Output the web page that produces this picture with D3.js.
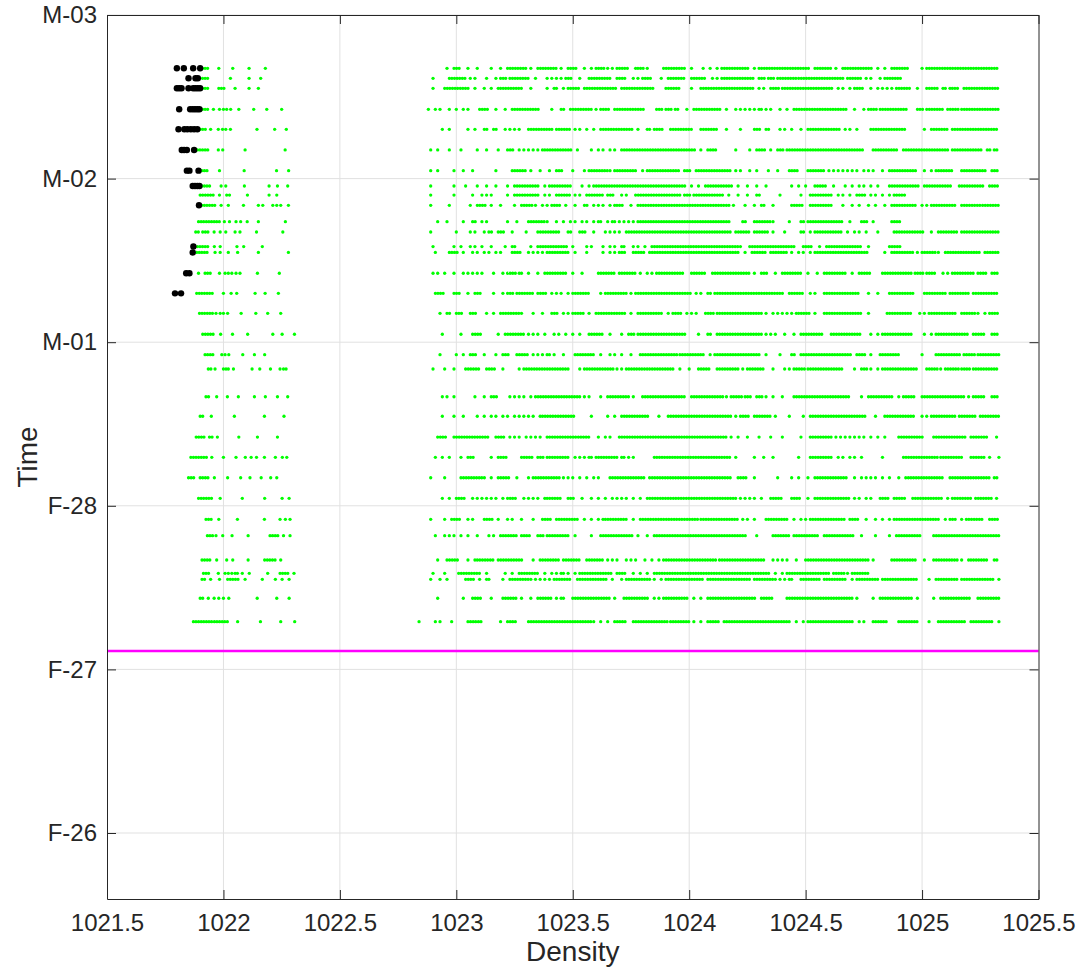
<!DOCTYPE html>
<html><head><meta charset="utf-8">
<script src="https://cdn.jsdelivr.net/npm/d3@7"></script>
<style>body{margin:0;background:#fff}svg{display:block}</style>
</head><body>
<svg id="chart" width="1083" height="973"></svg>
<script>
// ---------- data ----------
const xTickValues = [1021.5, 1022, 1022.5, 1023, 1023.5, 1024, 1024.5, 1025, 1025.5];
const xTickLabels = ["1021.5", "1022", "1022.5", "1023", "1023.5", "1024", "1024.5", "1025", "1025.5"];
const yTickDates  = ["2021-02-26T00:00", "2021-02-27T00:00", "2021-02-28T00:00", "2021-03-01T00:00", "2021-03-02T00:00", "2021-03-03T00:00"];
const yTickLabels = ["F-26", "F-27", "F-28", "M-01", "M-02", "M-03"];
const xDomain = [1021.5, 1025.5];
const yDomain = ["2021-02-25T14:19", "2021-03-03T00:00"];
const cutoffTime = "2021-02-27T02:42";

// one entry per profile (time of profile)
const profileTimes = [
  "2021-03-02T16:11","2021-03-02T14:43","2021-03-02T13:15","2021-03-02T10:10","2021-03-02T07:14",
  "2021-03-02T04:12","2021-03-02T01:10","2021-03-01T22:55","2021-03-01T21:35","2021-03-01T20:05",
  "2021-03-01T17:41","2021-03-01T16:10","2021-03-01T14:02","2021-03-01T13:10","2021-03-01T10:07",
  "2021-03-01T07:10","2021-03-01T04:14","2021-03-01T01:10","2021-02-28T22:10","2021-02-28T20:04",
  "2021-02-28T16:00","2021-02-28T13:08","2021-02-28T10:05","2021-02-28T07:07","2021-02-28T04:07",
  "2021-02-28T01:06","2021-02-27T22:01","2021-02-27T19:37","2021-02-27T16:03","2021-02-27T14:06",
  "2021-02-27T13:13","2021-02-27T10:26","2021-02-27T07:00"
];

// good-data densities per profile: "a" = one sample, "a-b" = densely sampled run from a to b
const goodDensity = [
 "1021.91-1021.935 1021.98 1022.04 1022.11 1022.18 1022.96 1022.99-1023.02 1023.05 1023.09 1023.15 1023.19 1023.22-1023.30 1023.32 1023.35-1023.43 1023.45 1023.48-1023.52 1023.55 1023.58 1023.60-1023.64 1023.65 1023.67 1023.69-1023.74 1023.77 1023.78-1023.81 1023.82 1023.89-1023.98 1024.01 1024.06 1024.09 1024.12 1024.14-1024.26 1024.28 1024.30-1024.52 1024.54-1024.61 1024.63 1024.66 1024.67-1024.79 1024.81 1024.84 1024.87-1024.94 1025.00 1025.02-1025.33",
 "1021.91-1021.94 1022.03 1022.11 1022.16 1022.90 1022.97-1023.04 1023.06 1023.08 1023.13 1023.17 1023.19-1023.22 1023.23-1023.31 1023.34 1023.39 1023.41 1023.43 1023.45 1023.47-1023.50 1023.53 1023.57-1023.67 1023.69-1023.73 1023.76 1023.78 1023.80-1023.84 1023.88 1023.91-1023.98 1024.01-1024.07 1024.10 1024.12 1024.14-1024.28 1024.30-1024.33 1024.34-1024.37 1024.38-1024.46 1024.47-1024.67 1024.68-1024.74 1024.76 1024.78 1024.82 1024.84-1024.91",
 "1021.91-1021.935 1021.98-1022.01 1022.05 1022.11 1022.15 1022.90 1022.95-1023.06 1023.08 1023.12 1023.15 1023.18 1023.19-1023.29 1023.32 1023.39 1023.42 1023.43 1023.46 1023.48-1023.53 1023.55-1023.69 1023.71-1023.85 1023.90-1023.96 1024.01 1024.05-1024.28 1024.30 1024.32 1024.35-1024.39 1024.40-1024.62 1024.64 1024.66 1024.69 1024.71-1024.75 1024.78 1024.81 1024.83 1024.85 1024.87 1024.89-1024.95 1024.98 1025.02-1025.07 1025.09 1025.10 1025.12 1025.13-1025.16 1025.18-1025.27 1025.28-1025.33",
 "1021.91-1021.935 1021.957 1021.983 1022.0 1022.014 1022.031 1022.066 1022.13 1022.186 1022.25 1022.88 1022.91 1022.93 1022.97 1023.00 1023.03 1023.05 1023.10-1023.14 1023.17 1023.21 1023.24-1023.36 1023.41 1023.45-1023.47 1023.49-1023.58 1023.60 1023.62-1023.66 1023.68-1023.81 1023.86-1023.89 1023.90-1023.93 1023.94-1023.96 1023.99 1024.02-1024.14 1024.16 1024.20 1024.22 1024.24 1024.26 1024.28 1024.30 1024.31 1024.33 1024.35 1024.39 1024.42 1024.45-1024.68 1024.71 1024.75 1024.77-1024.81 1024.82-1024.94 1024.98-1025.01 1025.02-1025.09 1025.11-1025.16 1025.17-1025.33",
 "1021.90-1021.93 1021.945 1021.978 1021.996 1022.01 1022.03 1022.144 1022.22 1022.27 1022.94 1022.97 1023.05 1023.08 1023.12-1023.14 1023.16-1023.18 1023.21 1023.23 1023.25 1023.27 1023.31-1023.42 1023.43-1023.49 1023.51 1023.53 1023.56 1023.59 1023.62-1023.76 1023.78 1023.82 1023.83 1023.85-1023.89 1023.92-1024.01 1024.05-1024.12 1024.16 1024.22 1024.28-1024.31 1024.33-1024.35 1024.39 1024.41 1024.44 1024.48 1024.51-1024.65 1024.67 1024.69 1024.72 1024.78-1024.93 1025.01 1025.04-1025.11 1025.13-1025.33",
 "1021.888-1021.943 1021.978 1021.997 1022.093 1022.265 1022.89 1022.92 1022.97 1023.02 1023.09 1023.13 1023.18 1023.22-1023.25 1023.27 1023.29 1023.31 1023.33 1023.35 1023.37 1023.38-1023.50 1023.52 1023.58 1023.61 1023.63 1023.66 1023.68 1023.71-1024.03 1024.05 1024.08-1024.12 1024.20 1024.26 1024.29-1024.33 1024.35 1024.38-1024.41 1024.42-1024.75 1024.79-1024.90 1024.92-1025.11 1025.13-1025.26 1025.28-1025.30 1025.31-1025.33",
 "1021.907-1021.93 1021.983 1022.089 1022.228 1022.28 1022.89 1022.92 1022.99 1023.03 1023.07 1023.17 1023.24-1023.30 1023.32 1023.36 1023.40 1023.43-1023.46 1023.50 1023.55 1023.57-1023.65 1023.66 1023.68-1023.78 1023.80 1023.82-1023.96 1023.98-1024.01 1024.03-1024.18 1024.20 1024.22 1024.26 1024.29 1024.34 1024.38 1024.43-1024.47 1024.51-1024.58 1024.60 1024.62 1024.64 1024.66 1024.68 1024.70 1024.72 1024.75 1024.77 1024.79 1024.83 1024.86-1024.98 1025.01 1025.04 1025.06-1025.13 1025.17-1025.28 1025.30-1025.33",
 "1021.907-1021.946 1021.99 1022.01 1022.09 1022.196 1022.232 1022.276 1022.89 1022.99 1023.04 1023.09 1023.13 1023.17 1023.22 1023.25-1023.36 1023.38 1023.40-1023.49 1023.54 1023.57 1023.59-1023.99 1024.01 1024.04 1024.07-1024.19 1024.21 1024.25 1024.29 1024.33 1024.44 1024.47 1024.50 1024.54-1024.59 1024.62 1024.67 1024.70 1024.73 1024.75 1024.78 1024.81 1024.86-1024.99 1025.01-1025.13 1025.16-1025.27 1025.29-1025.33",
 "1021.90-1021.957 1021.983 1022.014 1022.026 1022.103 1022.196 1022.229 1022.89 1022.99 1023.07 1023.11 1023.13 1023.15 1023.22 1023.25-1023.36 1023.38 1023.40 1023.43-1023.49 1023.51 1023.53 1023.56-1023.63 1023.65-1023.68 1023.71 1023.73 1023.77-1023.96 1023.98-1024.01 1024.02-1024.15 1024.17 1024.21 1024.25 1024.29-1024.31 1024.39 1024.48 1024.52-1024.61 1024.64 1024.66 1024.69 1024.72-1024.76 1024.78 1024.80 1024.83 1024.86 1024.88-1024.93",
 "1021.907-1021.971 1021.99 1022.021 1022.086 1022.15 1022.169 1022.212 1022.229 1022.246 1022.279 1022.89 1022.97 1023.06 1023.09-1023.13 1023.15 1023.19 1023.25 1023.28-1023.33 1023.34 1023.37 1023.39 1023.41-1023.45 1023.47 1023.51 1023.55-1023.57 1023.59 1023.61 1023.63 1023.66 1023.68 1023.69-1023.72 1023.75 1023.78-1024.18 1024.19 1024.24 1024.28 1024.31-1024.33 1024.36 1024.44-1024.49 1024.52-1024.62 1024.66 1024.70 1024.73 1024.77 1024.80-1024.81 1024.84 1024.87-1024.98 1025.00 1025.02 1025.04-1025.15 1025.17-1025.25 1025.26-1025.33",
 "1021.893-1021.983 1022.004 1022.026 1022.054 1022.074 1022.102 1022.15 1022.266 1022.92 1022.96 1023.03 1023.07-1023.09 1023.11 1023.13 1023.22 1023.26 1023.31-1023.38 1023.39 1023.43 1023.46 1023.49 1023.51 1023.54 1023.56 1023.59 1023.61 1023.62 1023.65 1023.67 1023.68 1023.70 1023.72 1023.74 1023.76 1023.78-1024.18 1024.23-1024.25 1024.28-1024.35 1024.36 1024.43 1024.48-1024.50 1024.51-1024.66 1024.69 1024.74-1024.77 1024.79 1024.87-1024.91",
 "1021.881-1021.90 1021.911-1021.935 1021.96 1021.986 1022.01 1022.05 1022.071 1022.142 1022.255 1022.89 1023.00 1023.06 1023.08 1023.12 1023.14-1023.16 1023.18-1023.21 1023.24 1023.30 1023.35-1023.45 1023.48-1023.50 1023.53-1023.56 1023.59 1023.64 1023.66 1023.68 1023.70 1023.73-1024.11 1024.12-1024.18 1024.20-1024.26 1024.28-1024.34 1024.36 1024.41 1024.48-1024.50 1024.52 1024.54-1024.66 1024.68 1024.71 1024.73 1024.76 1024.81 1024.88-1025.01 1025.04 1025.07-1025.15 1025.17-1025.33",
 "1021.888-1021.94 1021.961 1021.986 1022.058 1022.087 1022.167 1022.90 1022.99 1023.02 1023.06 1023.08 1023.11 1023.15 1023.21 1023.24-1023.26 1023.32 1023.35-1023.48 1023.50 1023.56 1023.58 1023.63 1023.66 1023.68 1023.71 1023.72 1023.76 1023.78 1023.81 1023.84-1024.21 1024.22 1024.26-1024.46 1024.49-1024.53 1024.56 1024.59-1024.74 1024.77 1024.86-1024.91",
 "1021.885-1021.94 1021.964 1021.986 1022.021 1022.061 1022.15 1022.279 1022.91 1022.97-1023.01 1023.03 1023.07 1023.09 1023.12 1023.14 1023.17 1023.19 1023.24-1023.28 1023.31 1023.33 1023.35 1023.37 1023.39-1023.48 1023.51 1023.56 1023.63 1023.66 1023.68 1023.70-1023.73 1023.76-1023.81 1023.83-1024.21 1024.24 1024.27-1024.33 1024.35-1024.42 1024.44 1024.47 1024.49 1024.52 1024.54-1024.77 1024.84 1024.87-1024.96 1024.98 1025.00-1025.06 1025.07 1025.10-1025.25 1025.27-1025.33",
 "1021.893 1021.921-1021.95 1021.983 1022.007 1022.021 1022.036 1022.054 1022.071 1022.146 1022.24 1022.90 1022.92 1022.95 1022.99 1023.03 1023.05 1023.07 1023.09 1023.11 1023.16 1023.20 1023.22-1023.26 1023.27 1023.28 1023.31 1023.35 1023.38-1023.48 1023.50 1023.54 1023.61-1023.68 1023.70-1023.77 1023.79 1023.82 1023.84 1023.86-1023.98 1024.01-1024.07 1024.10-1024.26 1024.28 1024.31-1024.34 1024.37 1024.40-1024.48 1024.51 1024.55 1024.58-1024.68 1024.70 1024.73-1024.78 1024.83-1024.96 1024.97-1025.01 1025.02-1025.06 1025.09 1025.11 1025.13-1025.23 1025.24-1025.28 1025.30-1025.33",
 "1021.885-1021.957 1022.0 1022.033 1022.057 1022.136 1022.179 1022.236 1022.91-1022.95 1022.99-1023.02 1023.05 1023.08-1023.11 1023.16 1023.20 1023.22-1023.25 1023.26-1023.33 1023.35-1023.39 1023.41 1023.43 1023.45 1023.48 1023.50-1023.57 1023.62 1023.64-1023.73 1023.75 1023.77-1024.01 1024.03 1024.05 1024.08-1024.10 1024.11-1024.41 1024.43-1024.49 1024.52 1024.54 1024.58-1024.73 1024.77 1024.81 1024.86-1024.97 1025.01-1025.11 1025.12-1025.20 1025.22-1025.33",
 "1021.897-1021.957 1021.968 1021.986 1022.0 1022.018 1022.076 1022.139 1022.19 1022.246 1022.93 1022.96-1022.98 1023.00-1023.03 1023.06-1023.09 1023.13 1023.16 1023.19-1023.27 1023.28 1023.33 1023.37 1023.41-1023.44 1023.46 1023.48 1023.50-1023.55 1023.57 1023.60-1023.73 1023.75 1023.78-1023.89 1023.91 1023.93-1023.97 1023.99 1024.01 1024.03 1024.07-1024.11 1024.12-1024.31 1024.33 1024.36 1024.38 1024.40 1024.42 1024.44 1024.46 1024.47-1024.52 1024.54 1024.58-1024.74 1024.77 1024.85-1024.96 1024.99 1025.01 1025.03-1025.15 1025.17-1025.23 1025.24 1025.27 1025.29-1025.33",
 "1021.911-1021.964 1021.988 1022.039 1022.104 1022.212 1022.252 1022.305 1022.94 1023.02 1023.07-1023.11 1023.18 1023.21-1023.29 1023.31 1023.33 1023.35 1023.38 1023.42 1023.44 1023.47 1023.50 1023.53 1023.57-1023.63 1023.66 1023.71 1023.74-1023.77 1023.78-1023.99 1024.04 1024.08-1024.10 1024.12-1024.31 1024.33 1024.35 1024.37 1024.41 1024.45 1024.48-1024.58 1024.61-1024.74 1024.78 1024.81 1024.83-1024.96 1025.01 1025.04 1025.06-1025.20 1025.22-1025.27 1025.30-1025.33",
 "1021.921-1021.964 1021.993 1022.007 1022.023 1022.083 1022.133 1022.177 1022.93 1023.00 1023.03 1023.06-1023.09 1023.12 1023.17 1023.20-1023.23 1023.26-1023.31 1023.33 1023.35 1023.37 1023.39 1023.40 1023.42 1023.46 1023.51-1023.59 1023.62 1023.66 1023.68 1023.71 1023.75 1023.79-1023.95 1023.96-1024.05 1024.06 1024.09 1024.11-1024.31 1024.33 1024.39 1024.44-1024.46 1024.48-1024.70 1024.72-1024.76 1024.78 1024.82-1024.90 1025.00 1025.06-1025.17 1025.18-1025.23 1025.24-1025.33",
 "1021.935-1021.95 1021.964 1022.0 1022.011 1022.021 1022.043 1022.123 1022.156 1022.202 1022.243 1022.258 1022.269 1022.90 1022.95 1022.99 1023.04-1023.10 1023.13-1023.17 1023.20 1023.27 1023.29-1023.48 1023.53 1023.55-1023.68 1023.69 1023.71 1023.73-1023.82 1023.83-1023.92 1023.93 1023.96 1024.00 1024.04-1024.09 1024.12-1024.21 1024.23 1024.25-1024.32 1024.36 1024.41 1024.43 1024.45-1024.50 1024.51-1024.66 1024.71 1024.74-1024.77 1024.78 1024.81 1024.83-1024.98 1025.02-1025.07 1025.08 1025.10-1025.16 1025.17-1025.21 1025.22-1025.33",
 "1021.925-1021.945 1021.971 1022.017 1022.064 1022.133 1022.18 1022.232 1022.276 1022.94 1022.96 1022.99 1023.08 1023.12 1023.15-1023.18 1023.23 1023.25 1023.27 1023.29 1023.32 1023.34-1023.53 1023.55 1023.57 1023.62 1023.65-1023.74 1023.76 1023.80-1023.98 1024.01-1024.15 1024.16 1024.18-1024.23 1024.24-1024.27 1024.29-1024.32 1024.33 1024.36 1024.40 1024.45-1024.69 1024.74 1024.77-1024.86 1024.87 1024.90 1024.92-1024.97 1025.00-1025.18 1025.20 1025.22-1025.27 1025.30-1025.33",
 "1021.90-1021.917 1021.948 1022.047 1022.176 1022.26 1022.94 1022.99 1023.03 1023.09 1023.12 1023.15 1023.17 1023.20 1023.22 1023.25 1023.27 1023.29 1023.31 1023.33 1023.36 1023.37-1023.51 1023.58 1023.65 1023.68 1023.71-1023.83 1023.87 1023.91-1024.18 1024.20 1024.22-1024.26 1024.28-1024.35 1024.37 1024.43 1024.49 1024.52-1024.76 1024.80 1024.84-1024.97 1025.00 1025.02 1025.04-1025.15 1025.16-1025.23 1025.25-1025.33",
 "1021.883-1021.917 1021.94-1021.954 1021.974 1022.066 1022.146 1022.232 1022.92-1022.96 1022.99-1023.14 1023.17-1023.21 1023.23 1023.25 1023.27 1023.30 1023.32 1023.34 1023.36 1023.39-1023.57 1023.61 1023.64 1023.66 1023.70-1024.16 1024.18 1024.21 1024.25 1024.30 1024.35 1024.40 1024.48 1024.52-1024.61 1024.63 1024.65 1024.67 1024.69 1024.71 1024.73 1024.75 1024.78 1024.81 1024.84 1024.90-1025.01 1025.05-1025.19 1025.21-1025.28 1025.32",
 "1021.86-1021.935 1021.95 1022.0 1022.054 1022.094 1022.119 1022.142 1022.176 1022.223 1022.253 1022.272 1022.91 1022.94 1022.97 1023.02 1023.05-1023.08 1023.15 1023.18-1023.22 1023.28-1023.33 1023.35-1023.38 1023.39-1023.49 1023.51 1023.53 1023.55 1023.57 1023.58 1023.60-1023.69 1023.71 1023.72 1023.74 1023.76 1023.85-1024.18 1024.20 1024.28 1024.32 1024.36 1024.47 1024.52-1024.62 1024.64 1024.66 1024.69 1024.71 1024.74 1024.83 1024.92-1025.07 1025.08-1025.18 1025.21-1025.27 1025.29 1025.33",
 "1021.85-1021.874 1021.90-1021.943 1021.961 1022.018 1022.074 1022.114 1022.162 1022.203 1022.229 1022.89 1022.95 1023.02-1023.13 1023.15 1023.18-1023.23 1023.26 1023.31 1023.33-1023.45 1023.46 1023.48 1023.50 1023.53 1023.56 1023.59 1023.61 1023.66-1023.81 1023.83-1024.18 1024.21-1024.25 1024.28 1024.38 1024.44 1024.47 1024.51 1024.54-1024.68 1024.71 1024.74 1024.76 1024.78 1024.80 1024.83 1024.86 1024.90 1024.93-1025.09 1025.12-1025.29 1025.31-1025.33",
 "1021.893-1021.954 1021.986 1022.081 1022.177 1022.252 1022.282 1022.94 1022.97 1023.00-1023.04 1023.07 1023.09 1023.11 1023.13 1023.15 1023.17 1023.20 1023.22-1023.26 1023.29 1023.31 1023.33 1023.35 1023.38 1023.39-1023.45 1023.48-1023.51 1023.54 1023.58 1023.61 1023.64 1023.67 1023.69 1023.71 1023.73 1023.76 1023.79 1023.82-1024.20 1024.22 1024.24 1024.26 1024.28 1024.31 1024.35-1024.40 1024.44-1024.48 1024.51 1024.54-1024.69 1024.71 1024.73 1024.76 1024.78 1024.82-1024.86 1024.88-1024.93 1024.96-1025.09 1025.11 1025.13-1025.21 1025.23-1025.30 1025.32-1025.33",
 "1021.925-1021.957 1021.98 1022.06 1022.176 1022.243 1022.266 1022.286 1022.89 1022.95 1022.98-1023.02 1023.05 1023.07 1023.12-1023.16 1023.18 1023.22 1023.24 1023.28 1023.33 1023.37-1023.41 1023.43-1023.52 1023.55 1023.58 1023.61 1023.63 1023.64-1023.73 1023.76 1023.79-1024.04 1024.05-1024.21 1024.23 1024.25 1024.28 1024.33-1024.42 1024.45 1024.48 1024.50 1024.52-1024.67 1024.69-1024.73 1024.76 1024.80 1024.83 1024.86 1024.88-1025.07 1025.10 1025.12-1025.15 1025.17 1025.19-1025.26 1025.29-1025.33",
 "1021.931-1021.954 1021.968 1021.997 1022.037 1022.106 1022.20-1022.24 1022.258 1022.286 1022.91 1022.95 1022.97 1022.99 1023.02 1023.05 1023.09 1023.14 1023.16 1023.19-1023.26 1023.28-1023.32 1023.35-1023.38 1023.39-1023.49 1023.51 1023.58 1023.62-1023.76 1023.78 1023.82 1023.85-1024.25 1024.29 1024.36-1024.43 1024.45-1024.56 1024.58-1024.71 1024.74 1024.80 1024.86 1024.89-1025.00 1025.05-1025.33",
 "1021.908-1021.95 1021.971 1022.014 1022.04 1022.106 1022.177-1022.226 1022.246 1022.92 1022.96-1023.01 1023.05 1023.08 1023.09-1023.16 1023.18-1023.29 1023.33 1023.36-1023.44 1023.46-1023.53 1023.56-1023.63 1023.65 1023.67 1023.69 1023.73 1023.75 1023.77 1023.81 1023.84 1023.87 1023.89-1024.12 1024.13-1024.33 1024.36 1024.38 1024.40 1024.42 1024.46 1024.50-1024.77 1024.79 1024.87-1024.98 1025.01 1025.05-1025.16 1025.17 1025.20 1025.21-1025.28 1025.31-1025.33",
 "1021.914-1021.94 1021.978 1022.007 1022.021 1022.036 1022.05 1022.06 1022.081 1022.111 1022.19 1022.243-1022.286 1022.303 1022.90 1022.95 1023.01-1023.10 1023.13 1023.21 1023.24 1023.27-1023.35 1023.38 1023.41 1023.43 1023.45 1023.46 1023.48 1023.51 1023.53-1023.67 1023.69-1023.73 1023.76 1023.79 1023.82 1023.85-1024.35 1024.37 1024.40 1024.42-1024.60 1024.62-1024.67 1024.68 1024.70-1024.77",
 "1021.908-1021.928 1021.945 1021.983 1022.018-1022.064 1022.093 1022.167 1022.223 1022.252 1022.282 1022.89 1022.93 1022.96 1023.04-1023.08 1023.10 1023.13 1023.14 1023.20 1023.23-1023.31 1023.32 1023.34 1023.36 1023.38 1023.40 1023.42-1023.49 1023.52-1023.65 1023.67 1023.71 1023.73-1023.82 1023.83 1023.85 1023.88 1023.90-1024.06 1024.08-1024.26 1024.28-1024.36 1024.37 1024.39 1024.41 1024.43 1024.44 1024.48-1024.56 1024.58-1024.68 1024.70 1024.72-1024.81 1024.83-1024.98 1025.03 1025.06-1025.16 1025.17-1025.31 1025.33",
 "1021.90-1021.918 1021.935 1021.96 1021.98 1022.0 1022.023 1022.145 1022.229 1022.282 1022.92 1023.03 1023.07-1023.11 1023.15 1023.20-1023.26 1023.28 1023.32 1023.35-1023.41 1023.43 1023.45 1023.46 1023.50-1023.66 1023.68 1023.72-1023.83 1023.85 1023.87 1023.89-1024.00 1024.02 1024.05 1024.08-1024.29 1024.31-1024.36 1024.42-1024.71 1024.72 1024.79 1024.82-1024.96 1024.98 1025.05 1025.08-1025.21 1025.24-1025.33",
 "1021.871-1021.95 1021.961-1022.021 1022.061 1022.159 1022.246 1022.306 1022.84 1022.91 1022.93 1022.98 1023.05-1023.11 1023.19 1023.22-1023.26 1023.31-1023.50 1023.51-1023.58 1023.59 1023.62 1023.65 1023.68-1023.73 1023.76-1023.91 1023.92-1024.00 1024.02 1024.05 1024.08-1024.13 1024.15-1024.33 1024.34-1024.44 1024.46 1024.49 1024.51-1024.70 1024.73 1024.75 1024.79-1024.85 1024.90-1024.98 1025.03 1025.07-1025.19 1025.21-1025.30 1025.33"
];

// flagged (bad) samples per profile
const flaggedDensity = [
 "1021.80 1021.83 1021.87 1021.90",
 "1021.85 1021.88 1021.89",
 "1021.80 1021.81 1021.82 1021.85 1021.87 1021.88 1021.89 1021.90",
 "1021.81 1021.857 1021.868 1021.878 1021.888 1021.897",
 "1021.807 1021.832 1021.845 1021.86 1021.874 1021.888",
 "1021.821 1021.831 1021.843 1021.874",
 "1021.843 1021.854 1021.893",
 "1021.868 1021.878 1021.888 1021.897",
 "",
 "1021.895",
 "", "",
 "1021.871",
 "1021.868",
 "1021.84 1021.854",
 "1021.792 1021.818",
 "", "", "", "", "", "", "", "", "", "", "", "", "", "", "", "", ""
];

// ---------- drawing ----------
const L = 107, R = 1038.5, T = 15, B = 899;
const parseT = d3.timeParse("%Y-%m-%dT%H:%M");

const x = d3.scaleLinear().domain(xDomain).range([L, R]);
const y = d3.scaleTime().domain(yDomain.map(parseT)).range([B, T]);

const svg = d3.select("#chart");
const font = "'Liberation Sans', Arial, Helvetica, sans-serif";
const ink = "#262626";

// grid
const grid = svg.append("g");
grid.selectAll("line.gx").data(xTickValues.slice(1, -1)).join("line")
  .attr("x1", d => x(d)).attr("x2", d => x(d)).attr("y1", T).attr("y2", B)
  .attr("stroke", "#e1e1e1").attr("stroke-width", 1);
grid.selectAll("line.gy").data(yTickDates.map(parseT)).join("line")
  .attr("x1", L).attr("x2", R).attr("y1", d => y(d)).attr("y2", d => y(d))
  .attr("stroke", "#e1e1e1").attr("stroke-width", 1);

// parse tokens
function parseTokens(s) {
  return s.trim() === "" ? [] : s.trim().split(/\s+/).map(t => {
    const p = t.split("-").map(Number);
    return p.length === 2 ? { a: p[0], b: p[1] } : { a: p[0], b: p[0] };
  });
}
const green = "#00ff00";
const goodRuns = [], goodPts = [];
goodDensity.forEach((s, i) => {
  const t = parseT(profileTimes[i]);
  parseTokens(s).forEach(k => {
    if (k.a === k.b) goodPts.push({ t, d: k.a });
    else goodRuns.push({ t, a: k.a, b: k.b });
  });
});
const flagged = [];
flaggedDensity.forEach((s, i) => {
  const t = parseT(profileTimes[i]);
  parseTokens(s).forEach(k => flagged.push({ t, d: k.a }));
});

const dataG = svg.append("g");
dataG.selectAll("line.run").data(goodRuns).join("line")
  .attr("x1", d => x(d.a)).attr("x2", d => x(d.b))
  .attr("y1", d => y(d.t)).attr("y2", d => y(d.t))
  .attr("stroke", green).attr("stroke-width", 3.3)
  .attr("stroke-linecap", "round").attr("stroke-dasharray", "0 2.6");
dataG.selectAll("circle.pt").data(goodPts).join("circle")
  .attr("cx", d => x(d.d)).attr("cy", d => y(d.t)).attr("r", 1.65).attr("fill", green);
dataG.selectAll("circle.bad").data(flagged).join("circle")
  .attr("cx", d => x(d.d)).attr("cy", d => y(d.t)).attr("r", 3.2).attr("fill", "#000");

// cutoff line
svg.append("line")
  .attr("x1", L).attr("x2", R)
  .attr("y1", y(parseT(cutoffTime))).attr("y2", y(parseT(cutoffTime)))
  .attr("stroke", "#ff00ff").attr("stroke-width", 2.6);

// axes
const xb = d3.axisBottom(x).tickValues(xTickValues).tickFormat((d, i) => xTickLabels[i])
  .tickSizeInner(-9).tickSizeOuter(0).tickPadding(15);
const xt = d3.axisTop(x).tickValues(xTickValues).tickFormat("")
  .tickSizeInner(-9).tickSizeOuter(0);
const yl = d3.axisLeft(y).tickValues(yTickDates.map(parseT)).tickFormat((d, i) => yTickLabels[i])
  .tickSizeInner(-9).tickSizeOuter(0).tickPadding(10);
const yr = d3.axisRight(y).tickValues(yTickDates.map(parseT)).tickFormat("")
  .tickSizeInner(-9).tickSizeOuter(0);

function style(g) {
  g.selectAll("path.domain").attr("stroke", ink).attr("stroke-width", 1);
  g.selectAll(".tick line").attr("stroke", ink).attr("stroke-width", 1);
  g.selectAll(".tick text").attr("fill", ink).style("font-family", font).style("font-size", "24px");
}
svg.append("g").attr("transform", `translate(0,${B})`).call(xb).call(style);
svg.append("g").attr("transform", `translate(0,${T})`).call(xt).call(style);
svg.append("g").attr("transform", `translate(${L},0)`).call(yl).call(style);
svg.append("g").attr("transform", `translate(${R},0)`).call(yr).call(style);

// axis titles
svg.append("text").attr("x", (L + R) / 2).attr("y", 961).attr("text-anchor", "middle")
  .attr("fill", ink).style("font-family", font).style("font-size", "28px").text("Density");
svg.append("text").attr("transform", `translate(37,${(T + B) / 2}) rotate(-90)`).attr("text-anchor", "middle")
  .attr("fill", ink).style("font-family", font).style("font-size", "28px").text("Time");
</script>
</body></html>
